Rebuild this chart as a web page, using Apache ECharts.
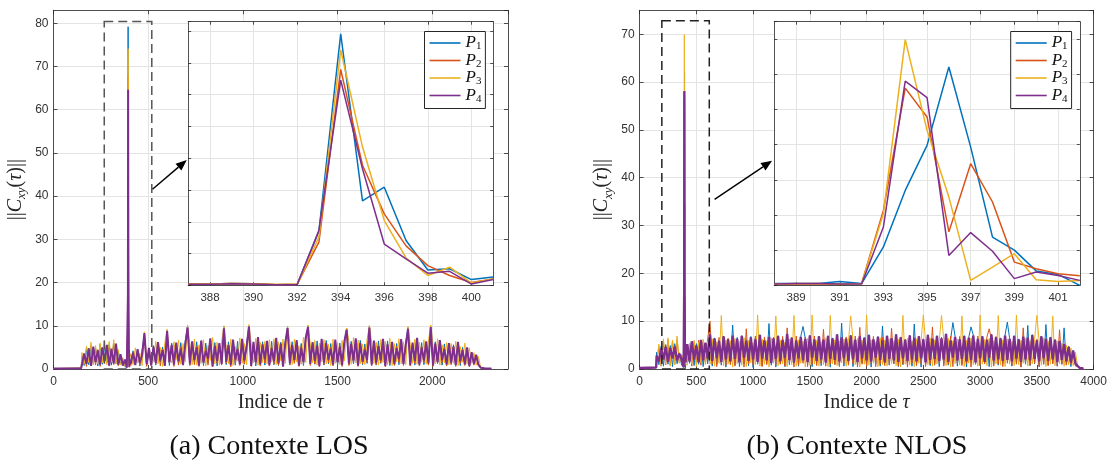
<!DOCTYPE html>
<html><head><meta charset="utf-8">
<script src="https://cdn.jsdelivr.net/npm/echarts@6/dist/echarts.min.js"></script>
<style>html,body{margin:0;padding:0;background:#fff}#c{width:1115px;height:464px}</style>
</head><body><div id="c"></div>
<script>
// ---------------- DATA ----------------
const seriesNames = ['P1', 'P2', 'P3', 'P4'];

// Tick labels
const losXTicks = [0, 500, 1000, 1500, 2000];
const nlosXTicks = [0, 500, 1000, 1500, 2000, 2500, 3000, 3500, 4000];
const losInsetTicks = [388, 390, 392, 394, 396, 398, 400];
const nlosInsetTicks = [389, 391, 393, 395, 397, 399, 401];

// (a) LOS : zoomed peak region (tau 387..401)
const losInsetTau = [387, 388, 389, 390, 391, 392, 393, 394, 395, 396, 397, 398, 399, 400, 401];
const losInsetP1 = [0.4, 0.4, 0.6, 0.5, 0.2, 0.3, 17.0, 79.2, 26.6, 30.9, 14.1, 4.8, 5.2, 1.8, 2.6];
const losInsetP2 = [0.5, 0.4, 0.6, 0.5, 0.2, 0.3, 13.6, 68.0, 37.8, 22.5, 12.4, 6.2, 3.1, 0.9, 2.0];
const losInsetP3 = [0.4, 0.4, 0.6, 0.5, 0.3, 0.3, 15.2, 74.1, 43.6, 20.4, 8.6, 3.1, 5.7, 0.7, 2.0];
const losInsetP4 = [0.3, 0.3, 0.5, 0.4, 0.2, 0.2, 17.3, 64.6, 36.7, 13.0, 8.3, 3.8, 4.4, 0.4, 1.8];

// (a) LOS : near-zero lead / tail
const losHeadTau = [0, 146];
const losHeadVal = [0.1, 0.2];
const losTailTau = [2256, 2280, 2312];
const losTailVal = [0.3, 0.1, 0.1];

// (a) LOS : noise before the peak (tau = 150 + 12k)
const losPreStart = 150, losPreStep = 12;
const losPreP1 = [2.9, 0.8, 4.6, 1.0, 5.5, 1.3, 4.9, 0.7, 5.7, 1.1, 5.2, 1.5, 5.8, 0.9, 6.0, 1.2, 4.0, 1.1, 2.3, 0.5];
const losPreP2 = [1.4, 3.1, 0.6, 4.2, 1.1, 4.7, 0.9, 4.5, 0.6, 4.9, 1.3, 5.1, 0.7, 4.4, 1.0, 5.4, 0.7, 3.0, 1.0, 1.8];
const losPreP3 = [3.8, 1.1, 5.3, 1.5, 6.2, 0.9, 5.4, 1.2, 6.0, 1.4, 6.6, 1.0, 6.4, 1.6, 6.8, 1.2, 4.5, 0.9, 2.6, 0.6];
const losPreP4 = [0.9, 3.6, 1.2, 4.8, 0.7, 5.2, 1.6, 4.3, 1.0, 5.0, 1.8, 5.6, 0.8, 4.7, 1.3, 5.9, 1.0, 3.4, 0.8, 2.2];

// (a) LOS : noise after the peak (tau = 408 + 12k)
const losPostStart = 408, losPostStep = 12;
const losPostP1 = [
1.6,4.2,1.3,3.9,0.7,4.4,7.9,1.0,3.8,1.5,
5.4,0.9,5.8,1.6,5.1,1.3,9.0,0.8,6.0,1.7,
5.5,1.2,6.1,1.4,6.5,10.0,0.9,5.7,1.6,6.3,
1.3,6.2,0.8,6.0,1.4,6.6,1.0,6.1,0.7,5.9,
1.6,9.8,1.0,6.3,1.3,6.1,0.9,6.4,1.5,6.2,
1.1,6.0,10.0,1.3,5.8,0.7,6.9,1.4,6.3,0.9,
5.7,1.5,6.4,1.0,6.6,0.8,6.2,1.3,5.9,9.8,
1.0,6.3,1.4,6.1,1.2,5.9,0.8,6.6,10.0,1.5,
5.8,1.1,6.5,1.4,6.2,0.9,6.6,1.2,5.9,1.6,
6.3,0.9,6.0,1.3,6.1,9.4,1.0,6.4,1.2,6.2,
1.5,6.6,1.0,5.8,1.3,9.9,1.2,6.0,0.9,6.5,
1.3,6.2,1.1,6.5,0.8,6.1,1.6,5.9,1.0,6.4,
1.0,6.2,9.6,1.4,5.9,0.9,6.5,1.3,6.1,1.0,
6.0,1.2,9.9,1.0,6.3,1.5,6.1,0.9,5.8,1.3,
5.8,1.1,5.6,1.4,5.9,0.8,5.0,1.2,4.8,1.0,
3.6,1.1,3.0,0.8];
const losPostP2 = [
0.8,3.5,1.6,4.0,1.0,3.1,7.6,0.6,4.3,1.3,
4.8,1.1,5.5,0.7,4.6,1.5,8.4,1.2,5.2,0.6,
5.6,0.9,5.0,1.3,5.3,9.1,0.8,5.9,1.0,5.2,
0.6,5.9,1.2,4.9,0.9,6.4,0.5,5.5,1.3,5.7,
0.9,9.0,1.3,5.6,0.5,6.2,1.0,5.1,0.8,6.3,
1.2,5.4,9.3,0.6,5.9,1.1,6.6,0.7,5.6,1.4,
6.0,0.7,5.2,1.1,6.5,0.9,5.6,0.5,5.8,9.1,
0.9,5.5,1.3,6.2,0.6,5.3,1.0,6.7,9.2,0.8,
5.9,1.2,5.3,0.5,6.4,1.0,5.7,1.4,5.0,0.7,
6.2,1.1,5.4,0.6,5.9,8.7,0.8,5.6,1.3,6.5,
0.6,5.8,1.2,5.0,1.4,9.2,0.7,6.1,1.0,5.4,
1.4,6.5,0.5,5.6,1.1,6.0,0.8,5.2,1.5,6.3,
0.8,5.7,8.9,0.7,5.8,1.3,6.6,0.7,5.3,1.4,
5.9,0.9,9.2,0.6,5.7,1.2,6.2,1.5,5.0,0.7,
5.6,1.0,5.3,0.6,5.8,1.3,4.6,0.8,4.7,0.5,
3.4,0.9,2.8,0.7];
const losPostP3 = [
3.5,1.0,4.9,1.4,3.6,0.8,8.6,2.3,4.1,1.2,
1.8,6.4,1.2,5.0,0.6,6.1,9.2,3.0,1.4,6.3,
2.2,6.7,1.1,5.9,1.7,10.2,5.5,1.0,6.9,0.9,
5.6,1.3,6.8,0.7,5.4,2.0,7.3,1.2,6.2,0.9,
6.4,10.0,5.0,1.2,6.9,0.8,5.2,1.9,7.2,1.3,
5.9,1.0,10.3,6.0,1.4,7.1,0.9,6.2,1.5,6.4,
1.2,6.8,1.6,7.0,1.0,6.3,1.9,6.9,1.3,9.9,
6.2,1.0,6.9,1.6,5.4,1.1,7.4,1.5,10.2,5.8,
1.4,6.6,0.9,6.0,1.7,6.8,1.2,5.7,0.8,6.9,
1.3,6.1,1.0,6.6,1.9,9.5,6.4,1.1,7.3,1.4,
6.7,1.2,5.8,1.0,6.9,10.1,6.1,1.3,6.2,0.9,
6.8,1.5,6.4,1.0,7.1,0.8,5.9,1.7,7.0,1.2,
6.3,1.0,9.8,5.6,1.3,6.9,1.1,6.2,1.6,6.8,
1.1,6.5,10.2,5.4,1.2,7.0,0.9,5.6,1.4,6.1,
1.0,5.9,1.3,6.4,0.8,5.2,1.6,6.0,1.1,4.9,
1.3,3.8,0.9,2.9];
const losPostP4 = [
1.2,3.8,0.9,4.6,1.5,3.2,8.3,1.1,4.9,0.8,
5.1,1.4,6.2,2.0,4.4,0.7,8.8,1.6,5.6,1.0,
6.1,1.8,4.7,0.9,5.8,9.6,1.3,6.4,2.1,5.0,
0.8,6.6,1.5,4.2,2.4,7.1,0.6,5.3,1.9,6.0,
1.2,9.4,1.7,5.5,0.9,6.8,2.2,4.6,1.1,7.0,
2.0,5.2,9.8,0.7,6.3,1.6,7.4,1.0,5.7,2.3,
6.5,0.9,4.8,1.8,7.2,1.3,5.9,0.6,6.1,9.5,
1.4,5.6,2.1,6.7,0.8,4.9,1.7,7.3,9.7,1.2,
6.2,1.9,5.4,0.7,7.0,1.5,6.0,2.2,4.7,1.0,
6.8,1.6,5.1,0.9,6.4,9.1,1.3,5.8,2.0,7.1,
0.8,6.0,1.7,4.5,2.1,9.6,1.0,6.6,1.4,5.3,
2.0,7.0,0.7,5.7,1.5,6.3,1.1,4.8,2.3,6.9,
1.2,5.5,9.3,0.9,6.1,1.8,7.2,1.0,5.0,2.0,
6.4,1.3,9.7,0.8,5.9,1.6,6.7,2.1,4.6,1.0,
6.0,1.5,5.2,0.9,6.3,1.8,4.4,1.1,5.0,0.7,
3.9,1.2,3.3,1.0];

// (b) NLOS : zoomed peak region (tau 388..402)
const nlosInsetTau = [388, 389, 390, 391, 392, 393, 394, 395, 396, 397, 398, 399, 400, 401, 402];
const nlosInsetP1 = [0.5, 0.5, 0.5, 1.1, 0.5, 10.9, 27.0, 39.8, 62.1, 39.3, 13.7, 10.0, 4.1, 3.1, 0.0];
const nlosInsetP2 = [0.3, 0.4, 0.4, 0.3, 0.5, 21.3, 56.1, 47.9, 15.2, 34.6, 23.7, 6.6, 4.7, 3.3, 2.7];
const nlosInsetP3 = [0.4, 0.5, 0.5, 0.4, 0.5, 20.4, 69.9, 44.1, 25.1, 1.4, 5.2, 9.0, 1.6, 1.1, 1.4];
const nlosInsetP4 = [0.4, 0.5, 0.5, 0.4, 0.4, 16.6, 58.1, 53.4, 8.5, 15.0, 9.7, 1.9, 3.8, 2.8, 1.4];

// (b) NLOS : near-zero lead / tail
const nlosHeadTau = [0, 146];
const nlosHeadVal = [0.2, 0.3];
const nlosTailTau = [3860, 3880, 3910];
const nlosTailVal = [0.6, 0.2, 0.1];

// (b) NLOS : noise before the peak (tau = 150 + 20k)
const nlosPreStart = 150, nlosPreStep = 20;
const nlosPreP1 = [3.5, 0.9, 4.8, 0.6, 5.1, 1.0, 4.9, 0.5, 5.3, 1.1, 3.4, 0.8];
const nlosPreP2 = [1.2, 4.7, 0.6, 5.6, 0.9, 6.1, 0.8, 5.9, 1.0, 6.2, 1.3, 2.9];
const nlosPreP3 = [1.0, 5.2, 0.7, 6.3, 1.1, 6.5, 0.6, 6.0, 0.9, 6.9, 1.2, 3.1];
const nlosPreP4 = [2.8, 1.6, 4.3, 2.0, 4.6, 1.5, 4.4, 2.2, 4.7, 1.8, 3.2, 2.0];

// (b) NLOS : noise after the peak (tau = 420 + 20k)
const nlosPostStart = 420, nlosPostStep = 20;
const nlosPostP1 = [
4.8,1.2,5.6,0.7,5.3,1.0,5.9,0.5,5.4,1.1,
7.5,0.6,6.5,1.0,6.1,0.8,6.9,0.4,6.3,1.2,
9.2,0.9,6.6,0.5,7.0,1.1,6.2,0.7,6.8,0.3,
6.4,1.0,7.2,0.6,6.1,1.2,9.5,0.8,6.5,0.4,
7.0,1.1,6.3,0.5,7.4,0.9,6.6,1.2,6.2,0.6,
6.8,8.9,6.4,1.0,7.1,0.5,6.3,1.1,6.9,0.7,
6.2,1.2,7.0,0.4,6.5,1.0,7.3,0.8,9.6,0.6,
6.4,1.1,7.1,0.5,6.2,0.9,6.9,1.3,6.6,0.7,
7.2,0.4,6.3,1.0,6.8,0.6,9.0,1.2,7.0,0.8,
6.5,1.1,7.3,0.5,6.7,0.9,6.2,1.2,7.1,0.6,
9.4,1.0,6.9,0.4,6.3,1.1,7.2,0.7,6.4,1.2,
7.0,0.5,6.5,1.0,7.4,0.8,6.1,9.7,6.8,0.6,
6.3,1.1,7.0,0.4,6.6,8.8,7.1,1.0,6.4,0.7,
6.9,1.2,6.2,0.5,7.3,1.0,6.7,0.8,6.5,1.1,
7.1,9.8,6.4,0.6,7.0,1.2,6.3,0.4,6.8,1.0,
9.1,0.7,7.2,1.1,6.1,0.5,6.9,1.0,9.3,0.8,
6.7,1.2,6.2,0.6,5.9,1.0,8.6,0.9,4.8,0.5,
3.9,0.8];
const nlosPostP2 = [
1.3,5.0,0.6,5.7,1.0,6.0,0.8,5.5,1.2,6.4,
10.0,1.0,6.2,0.5,6.6,1.1,6.0,0.7,6.4,0.9,
6.8,0.6,6.1,1.2,6.5,0.4,8.4,1.0,6.3,0.8,
6.9,1.1,6.4,0.5,6.7,0.9,6.2,1.2,6.6,0.7,
6.3,1.0,6.8,0.6,8.6,1.1,6.5,0.4,6.9,0.8,
6.1,1.2,6.7,0.5,6.4,1.0,6.9,0.7,6.2,1.1,
8.3,0.6,6.6,1.0,6.3,0.9,6.8,0.5,6.5,1.2,
6.7,0.8,6.2,1.1,6.9,0.4,8.7,1.0,6.4,0.6,
6.3,1.2,6.8,0.5,6.1,1.0,6.6,0.7,6.9,0.9,
8.5,1.1,6.4,0.6,6.7,1.0,6.2,0.4,6.8,1.2,
6.5,0.7,6.9,1.0,6.3,0.5,6.6,1.1,8.8,0.8,
6.2,1.2,6.7,0.6,6.4,1.0,6.9,0.5,6.1,1.1,
6.8,0.7,6.3,1.2,6.6,0.4,6.2,1.0,6.9,0.8,
6.4,1.1,6.7,8.4,6.2,0.6,6.8,1.0,6.5,0.5,
6.9,1.2,6.3,0.7,6.6,1.0,6.1,0.4,8.6,1.1,
6.7,0.8,6.4,1.2,6.2,0.5,6.9,1.0,6.3,0.7,
6.5,1.1,6.0,0.6,8.2,1.0,5.3,0.8,4.7,1.0,
3.6,0.6];
const nlosPostP3 = [
0.8,5.4,1.1,6.0,0.5,5.6,1.3,6.2,0.9,5.8,
1.0,6.3,0.6,5.7,1.2,11.2,0.7,6.1,1.0,5.9,
0.4,6.4,1.1,5.8,0.8,6.6,0.5,6.0,1.3,5.5,
0.9,11.3,0.6,6.2,1.0,5.9,0.4,6.5,1.2,11.1,
0.7,6.0,1.1,5.6,0.5,6.3,0.9,11.2,0.6,6.1,
1.2,5.8,0.4,6.4,0.8,11.3,1.0,6.0,0.6,5.7,
0.9,6.5,0.5,11.2,1.1,6.1,0.7,5.9,1.3,6.3,
0.6,5.8,11.1,6.2,0.9,6.4,0.4,6.0,1.0,11.3,
0.8,6.1,1.2,5.7,0.5,6.5,0.9,6.0,0.6,6.3,
1.1,5.9,0.7,6.2,0.4,11.2,1.0,6.4,0.8,5.8,
0.5,6.3,1.2,6.0,11.3,5.6,0.9,6.5,0.6,6.1,
1.0,5.8,11.2,6.2,0.7,6.4,0.4,5.9,1.1,6.3,
0.8,11.1,0.5,6.0,1.2,6.5,0.9,5.7,0.6,11.3,
1.0,6.2,0.7,6.4,0.4,5.9,1.1,11.2,0.8,6.1,
0.5,6.3,1.0,5.8,0.7,11.3,0.9,6.0,1.2,6.4,
0.6,5.9,1.1,6.2,11.2,6.0,0.8,6.5,0.5,5.8,
1.0,11.1,0.7,5.9,1.1,5.4,0.6,5.0,0.9,4.4,
0.7,3.5];
const nlosPostP4 = [
5.2,1.6,5.8,2.0,4.9,1.4,6.1,1.8,5.5,2.2,
7.2,1.7,6.4,2.3,5.9,1.5,6.8,2.0,6.2,1.6,
7.0,2.1,6.3,1.4,6.9,2.4,5.8,1.7,6.6,2.0,
6.2,1.5,7.1,2.2,6.0,1.8,6.7,1.3,6.4,2.1,
6.9,1.6,6.1,2.3,7.3,1.9,6.5,1.4,6.0,2.2,
6.7,1.8,6.3,1.5,7.0,2.4,6.2,1.7,6.8,2.0,
6.1,1.4,6.9,2.1,6.4,1.9,7.2,1.6,6.6,2.3,
6.3,1.7,7.0,2.0,6.1,1.5,6.8,2.2,6.5,1.8,
7.1,1.6,6.2,2.4,6.7,1.9,6.0,1.4,6.9,2.1,
6.4,1.8,7.2,1.5,6.6,2.2,6.1,1.7,7.0,2.0,
6.5,1.6,6.8,2.3,6.2,1.4,7.1,1.9,6.3,2.1,
6.9,1.7,6.4,2.0,7.3,1.5,6.0,2.4,6.7,1.8,
6.2,2.1,6.9,1.6,6.5,1.9,7.0,1.4,6.3,2.2,
6.8,1.5,6.1,2.3,7.2,1.8,6.6,2.0,6.4,1.7,
7.0,1.9,6.3,1.6,6.9,2.2,6.2,1.5,6.7,2.0,
6.5,1.8,7.1,2.1,6.0,1.6,6.8,2.3,6.3,1.7,
6.6,2.0,6.1,1.5,5.8,1.9,5.2,1.6,4.6,1.4,
3.8,1.2];

// ---------------- STYLE / LAYOUT ----------------
const colors = ['#0072BD', '#D95319', '#EDB120', '#7E2F8E'];
const mainWidths = { los: [1, 1, 1, 2.0], nlos: [1, 1, 1, 2.4] };
const axisColor = '#262626';
const gridColor = '#e4e4e4';
const labelFont = 'Liberation Sans';
const serifFont = 'Liberation Serif';

const layout = {
  losMain:  { left: 53.5,  top: 10.3, width: 454.5, height: 358.7 },
  losInset: { left: 188.2, top: 21.7, width: 305.0, height: 263.6 },
  nlosMain: { left: 639.6, top: 10.3, width: 454.0, height: 358.7 },
  nlosInset:{ left: 774.3, top: 21.7, width: 305.5, height: 263.6 }
};

function buildMain(headTau, headVal, preStart, preStep, pre, insetTau, inset, postStart, postStep, post, tailTau, tailVal) {
  const d = [];
  headTau.forEach((t, i) => d.push([t, headVal[i]]));
  pre.forEach((v, k) => d.push([preStart + k * preStep, v]));
  insetTau.forEach((t, i) => d.push([t, inset[i]]));
  post.forEach((v, k) => d.push([postStart + k * postStep, v]));
  tailTau.forEach((t, i) => d.push([t, tailVal[i]]));
  return d;
}
const zip = (a, b) => a.map((t, i) => [t, b[i]]);

const losMainData = [
  [losPreP1, losInsetP1, losPostP1], [losPreP2, losInsetP2, losPostP2],
  [losPreP3, losInsetP3, losPostP3], [losPreP4, losInsetP4, losPostP4]
].map(([pre, ins, post]) => buildMain(losHeadTau, losHeadVal, losPreStart, losPreStep, pre, losInsetTau, ins, losPostStart, losPostStep, post, losTailTau, losTailVal));
const nlosMainData = [
  [nlosPreP1, nlosInsetP1, nlosPostP1], [nlosPreP2, nlosInsetP2, nlosPostP2],
  [nlosPreP3, nlosInsetP3, nlosPostP3], [nlosPreP4, nlosInsetP4, nlosPostP4]
].map(([pre, ins, post]) => buildMain(nlosHeadTau, nlosHeadVal, nlosPreStart, nlosPreStep, pre, nlosInsetTau, ins, nlosPostStart, nlosPostStep, post, nlosTailTau, nlosTailVal));
const losInsetData = [losInsetP1, losInsetP2, losInsetP3, losInsetP4].map(a => zip(losInsetTau, a));
const nlosInsetData = [nlosInsetP1, nlosInsetP2, nlosInsetP3, nlosInsetP4].map(a => zip(nlosInsetTau, a));

const plainNum = v => String(v);
const tickLabelStyle = { fontFamily: labelFont, fontSize: 12, color: '#333', formatter: plainNum };
const lineStyleAxis = { color: axisColor, width: 0.8 };

function xAx(gridIndex, min, max, opts) {
  return Object.assign({
    type: 'value', gridIndex, min, max,
    axisLine: { show: true, onZero: false, lineStyle: lineStyleAxis },
    axisTick: { show: true, inside: true, length: 4, lineStyle: lineStyleAxis },
    axisLabel: Object.assign({ margin: 7 }, tickLabelStyle),
    splitLine: { show: true, lineStyle: { color: gridColor, width: 1 } }
  }, opts || {});
}
function secondary(base, position) {
  return Object.assign({}, base, {
    position, name: '',
    axisLabel: { show: false },
    splitLine: { show: false }
  });
}

const xNameRich = {
  r: { fontFamily: serifFont, fontSize: 20, color: '#262626' },
  i: { fontFamily: serifFont, fontSize: 20, fontStyle: 'italic', color: '#262626' }
};
const yNameRich = {
  b: { fontFamily: serifFont, fontSize: 20, color: '#262626', lineHeight: 26 },
  i: { fontFamily: serifFont, fontSize: 20, fontStyle: 'italic', color: '#262626', lineHeight: 26 },
  s: { fontFamily: serifFont, fontSize: 13, fontStyle: 'italic', color: '#262626', lineHeight: 13, verticalAlign: 'bottom' }
};
const xName = '{r|Indice de }{i|τ}';
const yName = '{b|||}{i|C}{s|xy}{b|(}{i|τ}{b|)||}';

const xLosMain = xAx(0, 0, 2400, {
  interval: 500,
  axisLabel: Object.assign({ margin: 7, showMaxLabel: false }, tickLabelStyle),
  name: xName, nameLocation: 'middle', nameGap: 20, nameTextStyle: { rich: xNameRich }
});
const xNlosMain = xAx(2, 0, 4000, {
  interval: 500,
  name: xName, nameLocation: 'middle', nameGap: 20, nameTextStyle: { rich: xNameRich }
});
const xLosInset = xAx(1, 387, 401, {
  z: 11,
  axisTick: { show: true, inside: true, length: 3, lineStyle: lineStyleAxis, customValues: losInsetTicks },
  axisLabel: Object.assign({ margin: 7, customValues: losInsetTicks }, tickLabelStyle, { fontSize: 11.5 })
});
const xNlosInset = xAx(3, 388, 402, {
  z: 11,
  axisTick: { show: true, inside: true, length: 3, lineStyle: lineStyleAxis, customValues: nlosInsetTicks },
  axisLabel: Object.assign({ margin: 7, customValues: nlosInsetTicks }, tickLabelStyle, { fontSize: 11.5 })
});

const yLosMain = xAx(0, 0, 83, {
  interval: 10,
  axisLabel: Object.assign({ margin: 5, showMaxLabel: false }, tickLabelStyle),
  name: yName, nameLocation: 'middle', nameGap: 25, nameTextStyle: { rich: yNameRich }
});
const yNlosMain = xAx(2, 0, 75, {
  interval: 10,
  axisLabel: Object.assign({ margin: 5, showMaxLabel: false }, tickLabelStyle),
  name: yName, nameLocation: 'middle', nameGap: 25, nameTextStyle: { rich: yNameRich }
});
const yLosInset = xAx(1, 0, 83, { interval: 10, z: 11, axisLabel: { show: false },
  axisTick: { show: true, inside: true, length: 3, lineStyle: lineStyleAxis } });
const yNlosInset = xAx(3, 0, 75, { interval: 10, z: 11, axisLabel: { show: false },
  axisTick: { show: true, inside: true, length: 3, lineStyle: lineStyleAxis } });

const xAxes = [
  Object.assign(xLosMain, { position: 'bottom' }), secondary(xLosMain, 'top'),
  Object.assign(xLosInset, { position: 'bottom' }), secondary(xLosInset, 'top'),
  Object.assign(xNlosMain, { position: 'bottom' }), secondary(xNlosMain, 'top'),
  Object.assign(xNlosInset, { position: 'bottom' }), secondary(xNlosInset, 'top')
];
const yAxes = [
  Object.assign(yLosMain, { position: 'left' }), secondary(yLosMain, 'right'),
  Object.assign(yLosInset, { position: 'left' }), secondary(yLosInset, 'right'),
  Object.assign(yNlosMain, { position: 'left' }), secondary(yNlosMain, 'right'),
  Object.assign(yNlosInset, { position: 'left' }), secondary(yNlosInset, 'right')
];

const series = [];
function addSeries(datas, xi, yi, widths, z) {
  datas.forEach((d, k) => series.push({
    name: seriesNames[k], type: 'line', xAxisIndex: xi, yAxisIndex: yi,
    data: d, symbol: 'none', showSymbol: false, z,
    lineStyle: { color: colors[k], width: widths[k] }, itemStyle: { color: colors[k] },
    emphasis: { disabled: true }, animation: false
  }));
}
addSeries(losMainData, 0, 0, mainWidths.los, 2);
addSeries(nlosMainData, 4, 4, mainWidths.nlos, 2);
addSeries(losInsetData, 2, 2, [1.5, 1.5, 1.5, 1.5], 12);
addSeries(nlosInsetData, 6, 6, [1.5, 1.5, 1.5, 1.5], 12);

function legendAt(left) {
  return {
    show: true, orient: 'vertical', left, top: 31.5, z: 20,
    data: seriesNames.map(n => ({ name: n, icon: 'rect' })), selectedMode: false,
    padding: [3, 4, 4, 5], itemGap: 0, itemWidth: 31, itemHeight: 1.6,
    backgroundColor: '#fff', borderColor: axisColor, borderWidth: 1,
    formatter: n => '{p|P}{s|' + n.slice(1) + '}',
    textStyle: {
      rich: {
        p: { fontFamily: serifFont, fontStyle: 'italic', fontSize: 17, color: '#111', lineHeight: 18 },
        s: { fontFamily: serifFont, fontSize: 11, color: '#111', lineHeight: 11, verticalAlign: 'bottom' }
      }
    }
  };
}

const chart = echarts.init(document.getElementById('c'), null, { renderer: 'canvas' });
chart.setOption({
  animation: false,
  backgroundColor: '#fff',
  grid: [
    Object.assign({ containLabel: false, show: true, backgroundColor: '#fff', borderWidth: 0, z: 0 }, layout.losMain),
    Object.assign({ containLabel: false, show: true, backgroundColor: '#fff', borderWidth: 0, z: 10 }, layout.losInset),
    Object.assign({ containLabel: false, show: true, backgroundColor: '#fff', borderWidth: 0, z: 0 }, layout.nlosMain),
    Object.assign({ containLabel: false, show: true, backgroundColor: '#fff', borderWidth: 0, z: 10 }, layout.nlosInset)
  ],
  xAxis: xAxes,
  yAxis: yAxes,
  legend: [legendAt(424.5), legendAt(1010.7)],
  series
});

// annotations: dashed zoom boxes (in data coordinates of the main axes) and arrows
const losBox = { x0: 268, x1: 519, y1: 80.4 };
const nlosBox = { x0: 196, x1: 614, y1: 72.8 };
const losArrow = { from: [152.5, 189.3], to: [186.8, 160.0] };
const nlosArrow = { from: [714.6, 199.3], to: [772.1, 160.7] };

function boxGraphic(box, xi, yi, color) {
  const p0 = chart.convertToPixel({ xAxisIndex: xi, yAxisIndex: yi }, [box.x0, 0]);
  const p1 = chart.convertToPixel({ xAxisIndex: xi, yAxisIndex: yi }, [box.x1, box.y1]);
  return {
    type: 'rect', z: 30, silent: true,
    shape: { x: p0[0], y: p1[1], width: p1[0] - p0[0], height: p0[1] - p1[1] },
    style: { fill: 'none', stroke: color, lineWidth: 1.5, lineDash: [9, 5] }
  };
}
function arrowGraphic(a) {
  const [x1, y1] = a.from, [x2, y2] = a.to;
  const dx = x2 - x1, dy = y2 - y1, L = Math.hypot(dx, dy);
  const ux = dx / L, uy = dy / L, hl = 11, hw = 4.5;
  const bx = x2 - ux * hl, by = y2 - uy * hl;
  return [
    { type: 'line', z: 30, silent: true, shape: { x1, y1, x2: bx, y2: by }, style: { stroke: '#000', lineWidth: 1.4 } },
    { type: 'polygon', z: 30, silent: true,
      shape: { points: [[x2, y2], [bx - uy * hw, by + ux * hw], [bx + uy * hw, by - ux * hw]] },
      style: { fill: '#000' } }
  ];
}
const captions = [
  { text: '(a) Contexte LOS', x: 269, y: 447 },
  { text: '(b) Contexte NLOS', x: 857, y: 447 }
];

chart.setOption({
  graphic: [
    boxGraphic(losBox, 0, 0, '#555'),
    boxGraphic(nlosBox, 4, 4, '#222'),
    ...arrowGraphic(losArrow),
    ...arrowGraphic(nlosArrow),
    ...captions.map(c => ({
      type: 'text', x: c.x, y: c.y, z: 30, silent: true,
      style: { text: c.text, fontFamily: serifFont, fontSize: 28, fill: '#111', align: 'center', verticalAlign: 'middle' }
    }))
  ]
});
</script>
</body></html>
